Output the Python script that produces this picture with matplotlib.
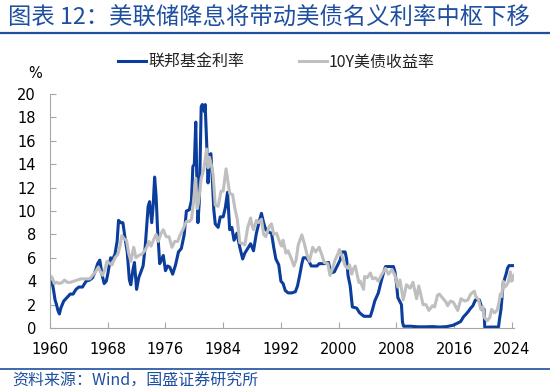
import matplotlib
matplotlib.use('Agg')
import matplotlib.pyplot as plt
from matplotlib.lines import Line2D

plt.rcParams['font.family'] = ['Noto Sans CJK SC', 'DejaVu Sans']

# effective fed funds rate (year, %)
ff_t = [1960.0, 1960.3, 1960.5, 1960.7, 1960.9, 1961.1, 1961.3, 1961.5, 1961.7, 1961.9,
        1962.2, 1962.5, 1962.8, 1963.2, 1963.6, 1964.0, 1964.5, 1965.0, 1965.5, 1965.9,
        1966.3, 1966.6, 1966.9, 1967.2, 1967.5, 1967.8, 1968.0, 1968.4, 1968.7, 1969.0,
        1969.3, 1969.5, 1969.8, 1970.1, 1970.4, 1970.7, 1971.0, 1971.2, 1971.5, 1971.7,
        1972.0, 1972.3, 1972.6, 1972.9, 1973.2, 1973.6, 1973.8, 1974.1, 1974.3, 1974.5,
        1974.7, 1974.9, 1975.2, 1975.5, 1975.7, 1976.0, 1976.3, 1976.6, 1977.0, 1977.4,
        1977.8, 1978.2, 1978.6, 1978.9, 1979.3, 1979.6, 1979.8, 1980.0, 1980.2, 1980.4,
        1980.5, 1980.7, 1980.95, 1981.1, 1981.4, 1981.5, 1981.7, 1981.9, 1982.1, 1982.3,
        1982.5, 1982.7, 1982.9, 1983.3, 1983.6, 1984.0, 1984.3, 1984.6, 1984.9, 1985.2,
        1985.5, 1985.9, 1986.3, 1986.7, 1987.0, 1987.4, 1987.8, 1988.2, 1988.6, 1989.0,
        1989.3, 1989.6, 1989.9, 1990.3, 1990.7, 1991.0, 1991.3, 1991.7, 1992.0, 1992.3,
        1992.6, 1993.0, 1993.5, 1994.0, 1994.3, 1994.6, 1994.9, 1995.1, 1995.5, 1995.9,
        1996.2, 1996.6, 1997.0, 1997.3, 1998.0, 1998.6, 1998.9, 1999.4, 1999.8, 2000.2,
        2000.5, 2000.9, 2001.1, 2001.3, 2001.6, 2001.9, 2002.5, 2002.9, 2003.5, 2004.4,
        2004.7, 2005.0, 2005.5, 2005.9, 2006.3, 2006.5, 2007.6, 2007.8, 2008.0, 2008.2,
        2008.7, 2008.85, 2009.0, 2010.0, 2011.0, 2012.0, 2013.0, 2014.0, 2015.0, 2015.9,
        2016.9, 2017.3, 2017.6, 2017.95, 2018.3, 2018.6, 2018.95, 2019.5, 2019.7, 2019.9,
        2020.15, 2020.25, 2021.0, 2022.15, 2022.3, 2022.5, 2022.6, 2022.8, 2022.95, 2023.2,
        2023.4, 2023.6, 2024.3]
ff_v = [4.0, 3.9, 3.2, 2.4, 2.0, 1.5, 1.2, 1.7, 2.0, 2.3,
        2.5, 2.7, 2.9, 2.9, 3.3, 3.5, 3.5, 4.0, 4.1, 4.3,
        4.9, 5.5, 5.8, 4.6, 3.8, 4.0, 4.6, 6.0, 5.9, 6.3,
        7.4, 9.2, 9.0, 9.0, 7.7, 6.5, 4.1, 3.7, 5.0, 5.6,
        3.3, 4.3, 4.8, 5.3, 7.0, 10.4, 10.8, 9.0, 10.5, 12.9,
        11.3, 8.5, 5.5, 5.9, 6.2, 4.9, 5.3, 5.2, 4.6, 5.4,
        6.5, 6.8, 8.0, 10.0, 10.1, 10.9, 13.8, 14.0, 17.6, 11.0,
        9.0, 10.9, 18.9, 19.1, 18.5, 19.1, 16.0, 12.4, 14.8, 14.9,
        12.6, 10.1, 8.9, 8.6, 9.5, 9.5, 10.3, 11.6, 8.4, 8.6,
        7.5, 8.1, 6.9, 5.9, 6.4, 6.8, 7.2, 6.6, 8.1, 9.1,
        9.8, 9.0, 8.4, 8.2, 8.1, 6.9, 5.9, 5.4, 4.0, 3.8,
        3.2, 3.0, 3.0, 3.1, 3.6, 4.5, 5.5, 6.0, 6.0, 5.7,
        5.3, 5.3, 5.3, 5.5, 5.5, 5.6, 4.7, 4.8, 5.3, 5.8,
        6.5, 6.5, 5.9, 4.5, 3.6, 1.8, 1.7, 1.3, 1.0, 1.0,
        1.6, 2.3, 3.0, 4.0, 4.9, 5.25, 5.25, 4.8, 3.9, 2.6,
        2.0, 0.5, 0.15, 0.15, 0.1, 0.1, 0.12, 0.08, 0.12, 0.24,
        0.55, 0.95, 1.15, 1.4, 1.7, 1.9, 2.4, 2.4, 2.0, 1.55,
        1.6, 0.05, 0.08, 0.08, 0.8, 1.6, 2.3, 3.8, 4.1, 4.6,
        5.1, 5.33, 5.33]

# 10Y treasury yield (year, %)
ty_t = [1960.0, 1960.3, 1960.6, 1960.9, 1961.3, 1961.7, 1962.0, 1962.4, 1962.8, 1963.3,
        1963.8, 1964.3, 1964.9, 1965.5, 1965.9, 1966.3, 1966.7, 1967.0, 1967.3, 1967.6,
        1967.9, 1968.3, 1968.6, 1969.0, 1969.4, 1969.7, 1969.95, 1970.3, 1970.6, 1970.9,
        1971.2, 1971.6, 1971.9, 1972.3, 1972.7, 1973.0, 1973.4, 1973.7, 1974.0, 1974.4,
        1974.7, 1975.0, 1975.4, 1975.7, 1976.1, 1976.5, 1976.9, 1977.3, 1977.7, 1978.0,
        1978.4, 1978.9, 1979.3, 1979.6, 1979.8, 1980.2, 1980.4, 1980.6, 1980.95, 1981.3,
        1981.7, 1981.9, 1982.1, 1982.4, 1982.6, 1982.9, 1983.3, 1983.7, 1984.0, 1984.4,
        1984.9, 1985.3, 1985.6, 1985.95, 1986.3, 1986.7, 1987.0, 1987.4, 1987.8, 1987.95,
        1988.2, 1988.6, 1988.9, 1989.3, 1989.6, 1989.9, 1990.4, 1990.7, 1991.0, 1991.4,
        1991.9, 1992.1, 1992.3, 1992.7, 1993.0, 1993.4, 1993.8, 1994.1, 1994.4, 1994.9,
        1995.3, 1995.6, 1995.95, 1996.4, 1996.8, 1997.3, 1997.7, 1998.0, 1998.5, 1998.8,
        1999.2, 1999.5, 1999.95, 2000.1, 2000.5, 2000.9, 2001.3, 2001.5, 2001.8, 2002.0,
        2002.3, 2002.8, 2003.0, 2003.45, 2003.6, 2003.95, 2004.4, 2004.7, 2005.1, 2005.5,
        2005.9, 2006.5, 2006.9, 2007.4, 2007.8, 2008.2, 2008.5, 2008.95, 2009.4, 2009.9,
        2010.3, 2010.8, 2011.1, 2011.7, 2012.1, 2012.5, 2013.0, 2013.3, 2013.7, 2013.95,
        2014.5, 2014.9, 2015.1, 2015.5, 2015.9, 2016.5, 2016.95, 2017.5, 2017.9, 2018.3,
        2018.8, 2019.0, 2019.4, 2019.7, 2020.0, 2020.2, 2020.6, 2020.95, 2021.2, 2021.6,
        2021.95, 2022.2, 2022.4, 2022.6, 2022.8, 2023.0, 2023.2, 2023.5, 2023.8, 2023.95,
        2024.1, 2024.3]
ty_v = [4.5, 4.3, 3.8, 3.9, 3.8, 3.9, 4.1, 3.9, 3.9, 4.0,
        4.1, 4.2, 4.2, 4.2, 4.5, 4.8, 5.2, 4.8, 4.5, 5.0,
        5.7, 5.5, 5.4, 6.0, 6.3, 7.0, 7.9, 7.6, 7.5, 6.4,
        5.7, 6.9, 6.0, 6.2, 6.3, 6.5, 6.9, 7.4, 7.0, 7.6,
        8.0, 7.4, 8.1, 8.4, 7.8, 7.8, 6.9, 7.4, 7.4, 7.9,
        8.4, 9.1, 9.1, 9.3, 10.3, 12.8, 10.2, 10.8, 12.8, 13.5,
        15.3, 13.7, 14.6, 13.8, 13.1, 10.5, 10.4, 11.7, 11.7, 13.6,
        11.5, 11.4, 10.3, 9.3, 7.3, 7.2, 7.1, 8.6, 9.4, 8.9,
        8.4, 9.2, 9.0, 9.3, 8.0, 7.8, 8.7, 8.9, 8.0, 8.1,
        7.2, 7.0, 7.5, 6.4, 6.6, 6.0, 5.3, 5.8, 7.1, 7.96,
        7.1, 6.3, 5.7, 6.9, 6.5, 6.9, 6.2, 5.6, 5.5, 4.5,
        5.2, 5.8, 6.4, 6.7, 6.1, 5.3, 5.1, 5.4, 4.6, 5.0,
        5.3, 3.9, 4.0, 3.3, 4.4, 4.3, 4.7, 4.2, 4.3, 4.0,
        4.5, 5.1, 4.6, 5.0, 4.5, 3.5, 4.1, 2.4, 3.7, 3.4,
        3.9, 2.5, 3.6, 2.0, 2.0, 1.5, 1.9, 1.8, 2.8, 2.9,
        2.5, 2.2, 1.9, 2.3, 2.2, 1.5, 2.5, 2.3, 2.4, 2.9,
        3.15, 2.7, 2.4, 1.6, 1.8, 0.9, 0.62, 0.9, 1.6, 1.3,
        1.5, 2.1, 2.9, 2.7, 4.0, 3.5, 3.6, 3.9, 4.8, 4.0,
        4.1, 4.5]

x_ticks = [1960, 1968, 1976, 1984, 1992, 2000, 2008, 2016, 2024]
y_ticks = [0, 2, 4, 6, 8, 10, 12, 14, 16, 18, 20]

blue = '#0B3D9C'
gray = '#BFBFBF'
title_blue = '#1E4FA0'

fig = plt.figure(figsize=(5.5, 3.9), dpi=100)
ax = fig.add_axes([50 / 550, 1 - 328 / 390, 464 / 550, 234 / 390])

ax.plot(ff_t, ff_v, color=blue, lw=2.2, label='联邦基金利率')
ax.plot(ty_t, ty_v, color=gray, lw=2.2, label='10Y美债收益率')

ax.set_xlim(1960, 2024.3)
ax.set_ylim(0, 20)
ax.set_xticks(x_ticks)
ax.set_yticks(y_ticks)
for s in ['top', 'right']:
    ax.spines[s].set_visible(False)
for s in ['left', 'bottom']:
    ax.spines[s].set_color('#A6A6A6')
ax.tick_params(direction='in', length=4, color='#A6A6A6', pad=10,
               labelsize=10.5, labelcolor='black')
for lab in ax.get_xticklabels() + ax.get_yticklabels():
    lab.set_family('DejaVu Sans')

fig.legend(*ax.get_legend_handles_labels(), loc='center left',
           bbox_to_anchor=(118 / 550, 1 - 62 / 390), ncol=2, frameon=False,
           fontsize=11.5, handlelength=1.75, handletextpad=0.15, columnspacing=3.4,
           borderpad=0, borderaxespad=0, labelcolor='#222222')

fig.text(28 / 550, 1 - 73 / 390, '%', fontsize=10.5, family='DejaVu Sans', va='center')

fig.text(8 / 550, 1 - 18 / 390, '图表 12：美联储降息将带动美债名义利率中枢下移',
         fontsize=16.8, color=title_blue, va='center', style='italic')
fig.add_artist(Line2D([0, 1], [1 - 33 / 390] * 2, color=title_blue, lw=1.6))
fig.add_artist(Line2D([0, 1], [1 - 369 / 390] * 2, color=title_blue, lw=1.2))
fig.text(12 / 550, 1 - 381 / 390, '资料来源：Wind，国盛证券研究所',
         fontsize=11.5, color=title_blue, va='center', style='italic')

fig.savefig('out.png', dpi=100)
